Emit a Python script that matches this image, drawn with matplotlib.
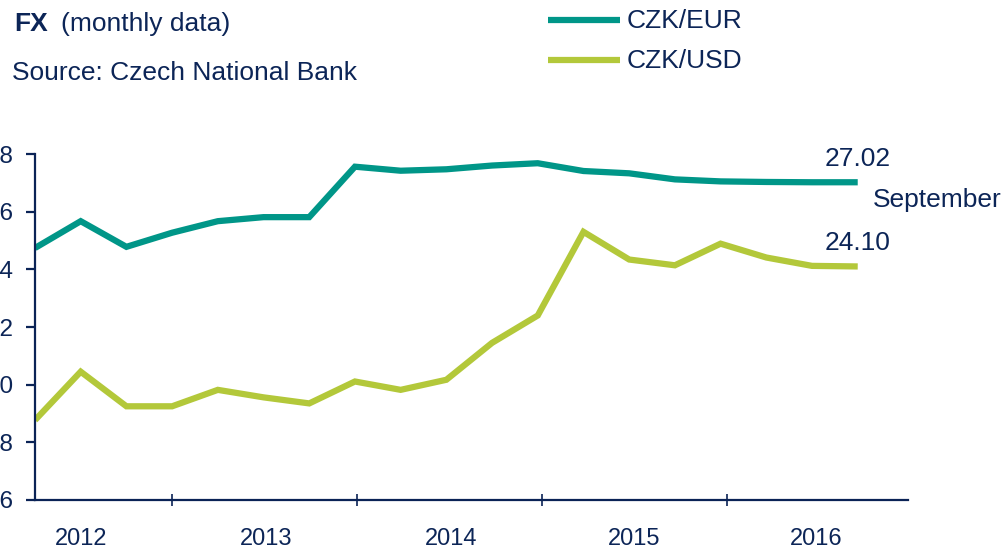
import matplotlib
matplotlib.use("Agg")
import matplotlib.pyplot as plt
from matplotlib.lines import Line2D

plt.rcParams['font.family'] = ['Liberation Sans', 'DejaVu Sans']

# Data (quarterly points, last = September 2016)
eur = [24.74, 25.67, 24.78, 25.27, 25.67, 25.81, 25.81, 27.56, 27.42, 27.47,
       27.60, 27.68, 27.41, 27.33, 27.12, 27.05, 27.03, 27.02, 27.02]
usd = [18.77, 20.45, 19.25, 19.25, 19.82, 19.56, 19.35, 20.11, 19.82, 20.17,
       21.45, 22.40, 25.30, 24.34, 24.14, 24.89, 24.41, 24.12, 24.10]
years = ["2012", "2013", "2014", "2015", "2016"]
year_centers = [1, 5.05, 9.1, 13.1, 17.1]
year_bounds = [3, 7.05, 11.1, 15.15]
yticks = [16, 18, 20, 22, 24, 26, 28]
series_names = ["CZK/EUR", "CZK/USD"]
last_labels = ["27.02", "24.10"]

TEAL = "#009688"
GREEN = "#b3c83a"
NAVY = "#0c2557"
AX = "#0b2356"

fig = plt.figure(figsize=(10.04, 5.48), dpi=100)
W, H = 1004, 548
ax = fig.add_axes([35 / W, 1 - 500 / H, (908 - 35) / W, (500 - 154) / H])

x = list(range(len(eur)))
ax.plot(x, eur, color=TEAL, lw=4.5, solid_joinstyle='miter', solid_capstyle='butt')
ax.plot(x, usd, color=GREEN, lw=4.5, solid_joinstyle='miter', solid_capstyle='butt')

ax.set_xlim(0, 19.1)
ax.set_ylim(16, 28)
for s in ['top', 'right']:
    ax.spines[s].set_visible(False)
for s in ['left', 'bottom']:
    ax.spines[s].set_color(AX)
    ax.spines[s].set_linewidth(1.6)

ax.set_yticks(yticks)
ax.set_yticklabels([str(v) for v in yticks])
ax.tick_params(axis='y', direction='out', length=6.5, width=1.6, color=AX,
               labelsize=17.5, labelcolor=NAVY, pad=9)

ax.set_xticks(year_bounds)
ax.set_xticklabels([])
ax.tick_params(axis='x', which='major', direction='inout', length=9, width=1.2, color=AX)
ax.set_xticks(year_centers, minor=True)
ax.set_xticklabels(years, minor=True)
ax.tick_params(axis='x', which='minor', length=0, labelsize=17, labelcolor=NAVY, pad=20)

# end labels
ax.annotate(last_labels[0], xy=(x[-1], eur[-1]), xytext=(0, 17), textcoords='offset points',
            ha='center', va='center', fontsize=19, color=NAVY, annotation_clip=False)
ax.annotate(last_labels[1], xy=(x[-1], usd[-1]), xytext=(0, 17), textcoords='offset points',
            ha='center', va='center', fontsize=19, color=NAVY, annotation_clip=False)
ax.annotate("September", xy=(x[-1], eur[-1]), xytext=(11, -12.5), textcoords='offset points',
            ha='left', va='center', fontsize=19, color=NAVY, annotation_clip=False)

# title
fig.text(14 / W, 1 - 31 / H, "FX", fontsize=19, fontweight='bold', color=NAVY, ha='left', va='baseline')
fig.text(61 / W, 1 - 31 / H, "(monthly data)", fontsize=19, color=NAVY, ha='left', va='baseline')
fig.text(12 / W, 1 - 80 / H, "Source: Czech National Bank", fontsize=19, color=NAVY, ha='left', va='baseline')

# legend
for yy, col, name in [(20, TEAL, series_names[0]), (60, GREEN, series_names[1])]:
    fig.add_artist(Line2D([548 / W, 620 / W], [1 - yy / H, 1 - yy / H], color=col, lw=4.5,
                          transform=fig.transFigure, solid_capstyle='butt'))
    fig.text(627 / W, 1 - (yy + 1) / H, name, fontsize=19, color=NAVY, ha='left', va='center')

fig.savefig("out.png", dpi=100)
